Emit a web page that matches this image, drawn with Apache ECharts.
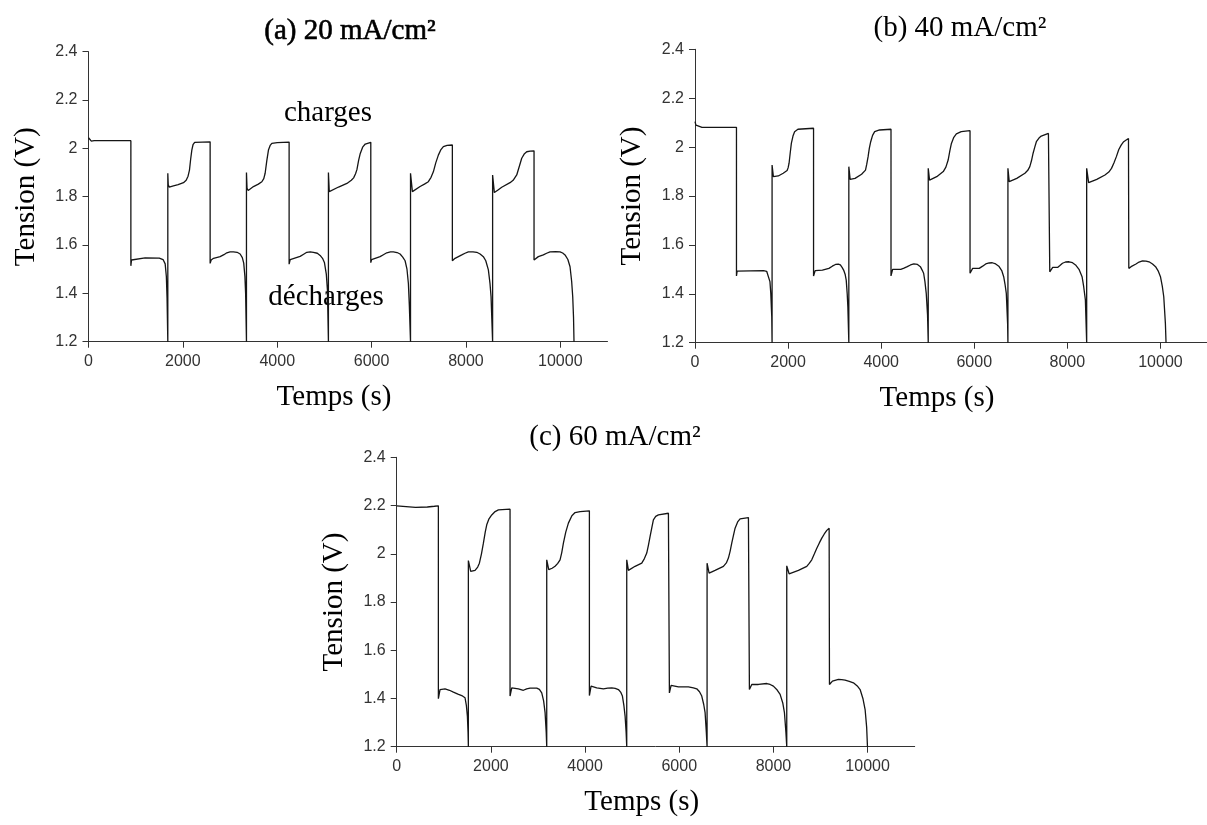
<!DOCTYPE html>
<html><head><meta charset="utf-8">
<script src="https://cdn.jsdelivr.net/npm/echarts@6/dist/echarts.min.js"></script>
<style>html,body{margin:0;padding:0;background:#fff}#c{width:1207px;height:825px}</style>
</head><body><div id="c"></div>
<script>
// Panel (a) 20 mA/cm²
const timeA = [0,25,60,120,898, 898,912,940,1200,1500,1580,1625,1650,1665,1681,
 1681,1690,1710,1800,1900,2013,2070,2110,2140,2165,2190,2215,2250,2578,
 2578,2600,2650,2790,2870,2932,3000,3072,3150,3214,3260,3290,3315,3330,3348,
 3348,3360,3385,3496,3600,3674,3715,3744,3780,3814,3850,3886,4000,4252,
 4252,4275,4309,4485,4560,4627,4700,4767,4850,4909,4960,5000,5040,5064,5085,
 5085,5103,5121,5300,5477,5570,5619,5660,5689,5725,5760,5810,5866,5983,
 5983,6000,6038,6180,6250,6322,6400,6462,6540,6604,6660,6710,6750,6780,6800,6825,
 6825,6865,7028,7120,7203,7260,7309,7360,7415,7470,7521,7600,7712,
 7712,7730,7769,7911,7980,8051,8150,8229,8300,8369,8420,8475,8510,8532,8565,
 8565,8602,8680,8758,8934,9000,9076,9130,9182,9240,9288,9360,9443,
 9443,9470,9534,9640,9710,9782,9900,9994,10050,10100,10160,10206,10240,10263,10280,10290];
const voltA = [2.044,2.036,2.030,2.032,2.032, 1.514,1.538,1.545,1.547,1.546,1.540,1.522,1.47,1.38,1.2,
 1.897,1.850,1.840,1.845,1.850,1.858,1.868,1.885,1.91,1.955,1.993,2.015,2.025,2.027,
 1.524,1.538,1.545,1.552,1.56,1.568,1.572,1.572,1.570,1.563,1.548,1.525,1.47,1.40,1.2,
 1.9,1.835,1.826,1.842,1.852,1.862,1.875,1.897,1.950,1.993,2.012,2.021,2.024,2.026,
 1.521,1.540,1.545,1.553,1.562,1.570,1.572,1.570,1.566,1.557,1.545,1.528,1.48,1.414,1.2,
 1.9,1.821,1.826,1.840,1.855,1.868,1.878,1.895,1.912,1.95,1.979,2.005,2.018,2.025,
 1.527,1.540,1.545,1.552,1.56,1.568,1.572,1.572,1.569,1.563,1.550,1.535,1.50,1.441,1.35,1.2,
 1.897,1.821,1.842,1.852,1.862,1.880,1.903,1.94,1.972,1.995,2.007,2.012,2.014,
 1.535,1.542,1.545,1.559,1.566,1.572,1.572,1.570,1.563,1.552,1.535,1.497,1.44,1.386,1.2,
 1.890,1.817,1.828,1.839,1.858,1.868,1.890,1.925,1.959,1.978,1.986,1.989,1.990,
 1.538,1.545,1.552,1.559,1.566,1.572,1.573,1.572,1.567,1.559,1.540,1.510,1.45,1.386,1.30,1.2];

// Panel (b) 40 mA/cm²
const timeB = [0,20,60,150,891, 891,905,930,1474,1540,1579,1610,1628,1649,1656,
 1656,1684,1789,1895,1979,2000,2021,2045,2070,2105,2140,2211,2547,
 2547,2582,2737,2877,2950,3018,3080,3123,3160,3193,3225,3249,3270,3284,3305,
 3305,3333,3439,3579,3663,3690,3719,3745,3775,3815,3860,3965,4211,
 4211,4246,4421,4490,4561,4630,4702,4780,4842,4880,4912,4940,4968,4996,5011,
 5011,5039,5193,5334,5390,5439,5475,5509,5560,5615,5720,5909,
 5909,5965,6106,6180,6246,6320,6386,6460,6527,6590,6632,6660,6688,6716,6723,
 6723,6751,6913,7088,7150,7193,7230,7264,7300,7334,7390,7439,7593,7622,
 7622,7685,7790,7840,7895,7960,8036,8110,8176,8250,8316,8350,8387,8415,
 8415,8457,8632,8808,8890,8948,9000,9053,9105,9159,9210,9264,9313,9320,
 9320,9369,9474,9540,9615,9690,9755,9830,9895,9950,10000,10040,10071,10106,10120];
const voltB = [2.104,2.090,2.083,2.081,2.081, 1.473,1.493,1.495,1.495,1.492,1.487,1.45,1.402,1.306,1.2,
 1.927,1.879,1.882,1.893,1.904,1.915,1.934,1.975,2.015,2.045,2.063,2.073,2.077,
 1.473,1.495,1.497,1.504,1.513,1.520,1.521,1.518,1.508,1.497,1.48,1.456,1.40,1.347,1.2,
 1.920,1.868,1.872,1.889,1.906,1.93,1.961,1.995,2.022,2.048,2.063,2.070,2.073,
 1.473,1.500,1.500,1.505,1.511,1.518,1.522,1.520,1.511,1.497,1.484,1.45,1.402,1.313,1.2,
 1.913,1.865,1.879,1.900,1.918,1.947,1.985,2.015,2.04,2.054,2.063,2.067,
 1.484,1.504,1.504,1.513,1.522,1.526,1.527,1.522,1.513,1.495,1.470,1.44,1.402,1.279,1.2,
 1.913,1.859,1.872,1.893,1.905,1.920,1.945,1.975,2.00,2.022,2.037,2.045,2.056,2.057,
 1.490,1.508,1.508,1.516,1.525,1.530,1.531,1.527,1.518,1.50,1.470,1.43,1.375,1.2,
 1.913,1.855,1.868,1.886,1.898,1.913,1.935,1.961,1.99,2.009,2.022,2.029,2.035,2.035,
 1.504,1.511,1.522,1.530,1.535,1.534,1.531,1.522,1.511,1.494,1.470,1.43,1.388,1.279,1.2];

// Panel (c) 60 mA/cm²
const timeC = [0,15,40,400,650,800,885, 885,920,1027,1120,1204,1300,1381,1451,1480,1501,1515,1522,
 1522,1572,1664,1720,1756,1800,1841,1880,1912,1960,2018,2090,2159,2407,
 2407,2443,2584,2690,2760,2832,2974,3030,3080,3120,3151,3175,3186,
 3186,3229,3300,3363,3420,3469,3505,3540,3590,3646,3720,3788,3894,4092,
 4092,4128,4248,4390,4480,4567,4640,4708,4760,4793,4825,4850,4872,4885,
 4885,4921,5062,5204,5260,5310,5345,5381,5420,5451,5500,5558,5770,5791,
 5791,5827,5982,6195,6300,6372,6430,6478,6520,6549,6575,6591,
 6591,6634,6761,6938,7000,7044,7080,7115,7150,7186,7240,7292,7469,7490,
 7490,7540,7682,7859,7930,7999,8080,8142,8200,8234,8265,8283,
 8283,8333,8531,8708,8760,8814,8870,8921,8975,9027,9080,9133,9183,9190,
 9190,9253,9381,9450,9522,9610,9699,9780,9841,9900,9947,9980,9997];
const voltC = [2.199,2.196,2.193,2.192,2.194,2.197,2.199, 1.399,1.437,1.440,1.434,1.426,1.418,1.412,1.403,1.37,1.327,1.26,1.2,
 1.972,1.927,1.931,1.945,1.961,2.00,2.044,2.09,2.120,2.145,2.161,2.175,2.182,2.185,
 1.410,1.444,1.440,1.434,1.440,1.443,1.443,1.438,1.423,1.39,1.341,1.26,1.2,
 1.975,1.934,1.940,1.948,1.96,1.975,2.005,2.044,2.09,2.127,2.158,2.171,2.175,2.178,
 1.412,1.451,1.444,1.440,1.443,1.444,1.442,1.437,1.425,1.410,1.37,1.327,1.26,1.2,
 1.975,1.931,1.948,1.961,1.98,2.003,2.035,2.072,2.11,2.141,2.155,2.161,2.168,2.168,
 1.423,1.454,1.448,1.448,1.444,1.440,1.428,1.410,1.375,1.341,1.26,1.2,
 1.961,1.920,1.931,1.948,1.962,1.982,2.01,2.044,2.075,2.106,2.132,2.145,2.150,2.150,
 1.437,1.458,1.458,1.462,1.458,1.451,1.435,1.417,1.38,1.341,1.26,1.2,
 1.950,1.917,1.931,1.948,1.96,1.975,2.0,2.023,2.045,2.065,2.082,2.097,2.106,2.106,
 1.458,1.472,1.479,1.478,1.476,1.471,1.465,1.452,1.437,1.40,1.354,1.28,1.2];

const xTicks = [0,2000,4000,6000,8000,10000];
const yTicks = [1.2,1.4,1.6,1.8,2,2.2,2.4];
const panelTitles = ['(a) 20 mA/cm²','(b) 40 mA/cm²','(c) 60 mA/cm²'];
const xName = 'Temps (s)';
const yName = 'Tension (V)';
const annotations = ['charges','décharges'];

const serif = '"Liberation Serif", "Times New Roman", serif';
const sans = '"Liberation Sans", Arial, sans-serif';

function zip(t, v){ return t.map((x,i)=>[x, v[i]]); }

const grids = [
  {left:88.5, top:51.7, width:519, height:290},
  {left:695, top:49.3, width:522.5, height:293.4},
  {left:396.7, top:457.3, width:518, height:289.4}
];

function xAx(gi){
  return {type:'value', gridIndex:gi, min:0, max:11000, interval:2000,
    axisLine:{show:true, onZero:false, lineStyle:{color:'#333', width:1}},
    axisTick:{show:true, inside:false, length:6, customValues:xTicks, lineStyle:{color:'#333', width:1}},
    axisLabel:{show:true, customValues:xTicks, margin:12, fontFamily:sans, fontSize:16, color:'#333', formatter:(v)=>String(v)},
    splitLine:{show:false},
    name:xName, nameLocation:'middle', nameGap:41,
    nameTextStyle:{fontFamily:serif, fontSize:29, color:'#000', padding:[0,28,0,0]}
  };
}
function yAx(gi){
  return {type:'value', gridIndex:gi, min:1.2, max:2.4, interval:0.2,
    axisLine:{show:true, onZero:false, lineStyle:{color:'#333', width:1}},
    axisTick:{show:true, inside:false, length:6, customValues:yTicks, lineStyle:{color:'#333', width:1}},
    axisLabel:{show:true, customValues:yTicks, margin:11, fontFamily:sans, fontSize:16, color:'#333',
      formatter:(v)=>String(Number(Number(v).toFixed(1)))},
    splitLine:{show:false},
    name:yName, nameLocation:'middle', nameGap:48,
    nameTextStyle:{fontFamily:serif, fontSize:29, color:'#000'}
  };
}
function ser(gi, t, v){
  return {type:'line', xAxisIndex:gi, yAxisIndex:gi, data:zip(t,v), showSymbol:false, symbol:'none',
    lineStyle:{color:'#151515', width:1.3}, silent:true};
}
function txt(x, y, s, heavy){
  const st = {text:s, font:'29px ' + serif, fill:'#000', align:'center', verticalAlign:'middle'};
  if (heavy) { st.stroke = '#000'; st.lineWidth = 0.6; }
  return {type:'text', x:x, y:y, silent:true, style:st};
}

const chart = echarts.init(document.getElementById('c'), null, {renderer:'canvas'});
chart.setOption({
  animation:false,
  backgroundColor:'#fff',
  grid: grids,
  xAxis: [xAx(0), xAx(1), xAx(2)],
  yAxis: [yAx(0), yAx(1), yAx(2)],
  series: [ser(0,timeA,voltA), ser(1,timeB,voltB), ser(2,timeC,voltC)],
  graphic: [
    txt(350, 31, panelTitles[0], true),
    txt(960, 28, panelTitles[1]),
    txt(615, 437, panelTitles[2]),
    txt(328, 113, annotations[0]),
    txt(326, 297, annotations[1])
  ]
});
</script>
</body></html>
